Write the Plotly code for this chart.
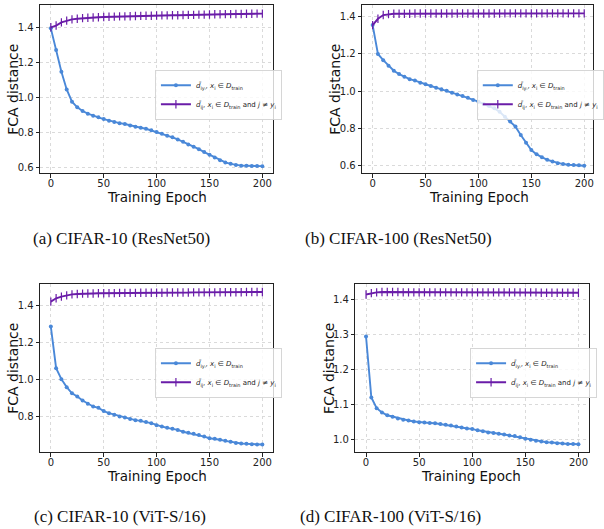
import plotly.graph_objects as go

W, H = 604, 529

epochs = list(range(0, 201, 5))

# (a) CIFAR-10 (ResNet50)
a_same = [1.394, 1.271, 1.147, 1.046, 0.976, 0.944, 0.923, 0.908, 0.896, 0.887,
          0.877, 0.868, 0.860, 0.854, 0.849, 0.841, 0.833, 0.828, 0.822, 0.813,
          0.803, 0.794, 0.782, 0.773, 0.761, 0.748, 0.733, 0.719, 0.706, 0.689,
          0.674, 0.659, 0.643, 0.630, 0.622, 0.616, 0.612, 0.611, 0.610, 0.610, 0.609]
a_diff = [1.400, 1.410, 1.428, 1.438, 1.445, 1.449, 1.452, 1.454, 1.456, 1.457,
          1.459, 1.460, 1.461, 1.462, 1.462, 1.463, 1.464, 1.465, 1.466, 1.466,
          1.467, 1.468, 1.468, 1.469, 1.469, 1.470, 1.471, 1.471, 1.472, 1.472,
          1.473, 1.474, 1.474, 1.475, 1.475, 1.476, 1.476, 1.477, 1.477, 1.478, 1.478]

# (b) CIFAR-100 (ResNet50)
b_same = [1.355, 1.200, 1.167, 1.137, 1.110, 1.092, 1.078, 1.065, 1.057, 1.046,
          1.037, 1.028, 1.019, 1.011, 1.002, 0.992, 0.983, 0.974, 0.965, 0.953,
          0.944, 0.931, 0.921, 0.908, 0.890, 0.863, 0.837, 0.810, 0.765, 0.723,
          0.684, 0.661, 0.645, 0.632, 0.623, 0.614, 0.609, 0.605, 0.604, 0.602, 0.600]
b_diff = [1.355, 1.389, 1.409, 1.414, 1.416, 1.416, 1.416, 1.416, 1.417, 1.417,
          1.417, 1.417, 1.417, 1.417, 1.417, 1.417, 1.417, 1.417, 1.417, 1.417,
          1.417, 1.417, 1.417, 1.417, 1.417, 1.418, 1.418, 1.418, 1.418, 1.418,
          1.418, 1.418, 1.418, 1.418, 1.418, 1.418, 1.418, 1.418, 1.418, 1.418, 1.418]

# (c) CIFAR-10 (ViT-S/16)
c_same = [1.284, 1.060, 1.001, 0.958, 0.925, 0.908, 0.886, 0.868, 0.854, 0.847,
          0.829, 0.818, 0.809, 0.800, 0.795, 0.787, 0.780, 0.777, 0.770, 0.764,
          0.753, 0.746, 0.739, 0.734, 0.728, 0.718, 0.712, 0.707, 0.700, 0.692,
          0.683, 0.680, 0.675, 0.669, 0.664, 0.658, 0.655, 0.653, 0.651, 0.649, 0.649]
c_diff = [1.418, 1.436, 1.445, 1.452, 1.457, 1.459, 1.461, 1.462, 1.462, 1.463,
          1.463, 1.464, 1.464, 1.465, 1.465, 1.465, 1.465, 1.466, 1.466, 1.466,
          1.466, 1.466, 1.467, 1.467, 1.467, 1.467, 1.467, 1.468, 1.468, 1.468,
          1.468, 1.468, 1.469, 1.469, 1.469, 1.469, 1.469, 1.470, 1.470, 1.470, 1.470]

# (d) CIFAR-100 (ViT-S/16)
d_same = [1.293, 1.119, 1.088, 1.076, 1.068, 1.064, 1.059, 1.055, 1.053, 1.050,
          1.048, 1.047, 1.046, 1.045, 1.043, 1.041, 1.039, 1.036, 1.033, 1.030,
          1.029, 1.025, 1.022, 1.019, 1.017, 1.015, 1.013, 1.010, 1.009, 1.005,
          1.001, 0.998, 0.995, 0.993, 0.991, 0.990, 0.988, 0.987, 0.986, 0.986, 0.985]
d_diff = [1.413, 1.417, 1.419, 1.420, 1.420, 1.420, 1.420, 1.419, 1.419, 1.419,
          1.419, 1.419, 1.419, 1.419, 1.419, 1.419, 1.419, 1.419, 1.419, 1.419,
          1.419, 1.419, 1.419, 1.419, 1.419, 1.419, 1.419, 1.419, 1.419, 1.419,
          1.419, 1.419, 1.419, 1.418, 1.418, 1.418, 1.418, 1.418, 1.418, 1.418, 1.418]

captions = ["(a) CIFAR-10 (ResNet50)", "(b) CIFAR-100 (ResNet50)",
            "(c) CIFAR-10 (ViT-S/16)", "(d) CIFAR-100 (ViT-S/16)"]
name_same = "<i>d̄</i><sub>iyᵢ</sub>, <i>x</i><sub>i</sub> ∈ <i>D</i><sub>train</sub>"
name_diff = "<i>d̄</i><sub>ij</sub>, <i>x</i><sub>i</sub> ∈ <i>D</i><sub>train</sub> and <i>j</i> ≠ <i>y</i><sub>i</sub>"

BLUE = "#4a88d8"
PURPLE = "#6a1ca8"
FONT = "DejaVu Sans"

panels = [
    dict(px=(41, 278), py=(5, 173), xr=(-10, 210), yr=(0.57, 1.527),
         yt=[0.6, 0.8, 1.0, 1.2, 1.4], data=(a_same, a_diff),
         leg=(158, 70), cap=(124, 238), xt=(160, 197), yt_pos=(13, 89)),
    dict(px=(369, 604), py=(5, 173), xr=(-9.8, 208.3), yr=(0.561, 1.463),
         yt=[0.6, 0.8, 1.0, 1.2, 1.4], data=(b_same, b_diff),
         leg=(486, 70), cap=(406, 238), xt=(488, 197), yt_pos=(341, 89)),
    dict(px=(41, 278), py=(284, 452), xr=(-10, 210), yr=(0.609, 1.513),
         yt=[0.8, 1.0, 1.2, 1.4], data=(c_same, c_diff),
         leg=(158, 348), cap=(122, 516), xt=(160, 476), yt_pos=(13, 368)),
    dict(px=(362, 600), py=(284, 452), xr=(-10, 210), yr=(0.963, 1.443),
         yt=[1.0, 1.1, 1.2, 1.3, 1.4], data=(d_same, d_diff),
         leg=(479, 348), cap=(398, 516), xt=(480, 476), yt_pos=(335, 368)),
]

fig = go.Figure()
annotations = []
layout = {}
for i, p in enumerate(panels):
    k = "" if i == 0 else str(i + 1)
    lg = "legend" + k
    same, diff = p["data"]
    fig.add_trace(go.Scatter(
        x=epochs, y=same, mode="lines+markers", name=name_same,
        line=dict(color=BLUE, width=1.9),
        marker=dict(symbol="circle", size=4, color=BLUE),
        xaxis="x" + k, yaxis="y" + k, legend=lg))
    fig.add_trace(go.Scatter(
        x=epochs, y=diff, mode="lines+markers", name=name_diff,
        line=dict(color=PURPLE, width=1.9),
        marker=dict(symbol="line-ns", size=6, color=PURPLE,
                    line=dict(color=PURPLE, width=1.2)),
        xaxis="x" + k, yaxis="y" + k, legend=lg))
    axcommon = dict(showline=True, linecolor="#222", linewidth=1.2, mirror=True,
                    ticks="outside", ticklen=3.5, tickwidth=0.8, tickcolor="#222",
                    showgrid=True, gridcolor="#dadada", griddash="dot", gridwidth=0.8,
                    zeroline=False,
                    tickfont=dict(family=FONT, size=10, color="#222"))
    layout["xaxis" + k] = dict(
        domain=[p["px"][0] / W, p["px"][1] / W], range=list(p["xr"]),
        anchor="y" + k, tickvals=[0, 50, 100, 150, 200],
        ticklabelstandoff=-3, **axcommon)
    layout["yaxis" + k] = dict(
        domain=[1 - p["py"][1] / H, 1 - p["py"][0] / H], range=list(p["yr"]),
        anchor="x" + k, tickvals=p["yt"], tickformat=".1f", **axcommon)
    layout[lg] = dict(
        x=p["leg"][0] / W, y=1 - p["leg"][1] / H, xanchor="left", yanchor="top",
        xref="paper", yref="paper",
        bgcolor="rgba(255,255,255,0.8)", bordercolor="#cccccc", borderwidth=0.8,
        font=dict(family=FONT, size=7, color="#222"), itemwidth=30,
        tracegroupgap=0)
    annotations.append(dict(
        x=p["cap"][0] / W, y=1 - p["cap"][1] / H, xref="paper", yref="paper",
        text=captions[i], showarrow=False, xanchor="center", yanchor="middle",
        font=dict(family="Liberation Serif", size=17, color="#111")))
    annotations.append(dict(
        x=p["xt"][0] / W, y=1 - p["xt"][1] / H, xref="paper", yref="paper",
        text="Training Epoch", showarrow=False, xanchor="center", yanchor="middle",
        font=dict(family=FONT, size=13.5, color="#111")))
    annotations.append(dict(
        x=p["yt_pos"][0] / W, y=1 - p["yt_pos"][1] / H, xref="paper", yref="paper",
        text="FCA distance", showarrow=False, xanchor="center", yanchor="middle",
        textangle=-90, font=dict(family=FONT, size=14, color="#111")))

fig.update_layout(
    width=W, height=H, margin=dict(l=0, r=0, t=0, b=0),
    paper_bgcolor="white", plot_bgcolor="white",
    annotations=annotations, **layout)

fig.write_html("out.html", config={"displayModeBar": False},
               post_script="document.body.style.margin='0';document.body.style.padding='0';")
